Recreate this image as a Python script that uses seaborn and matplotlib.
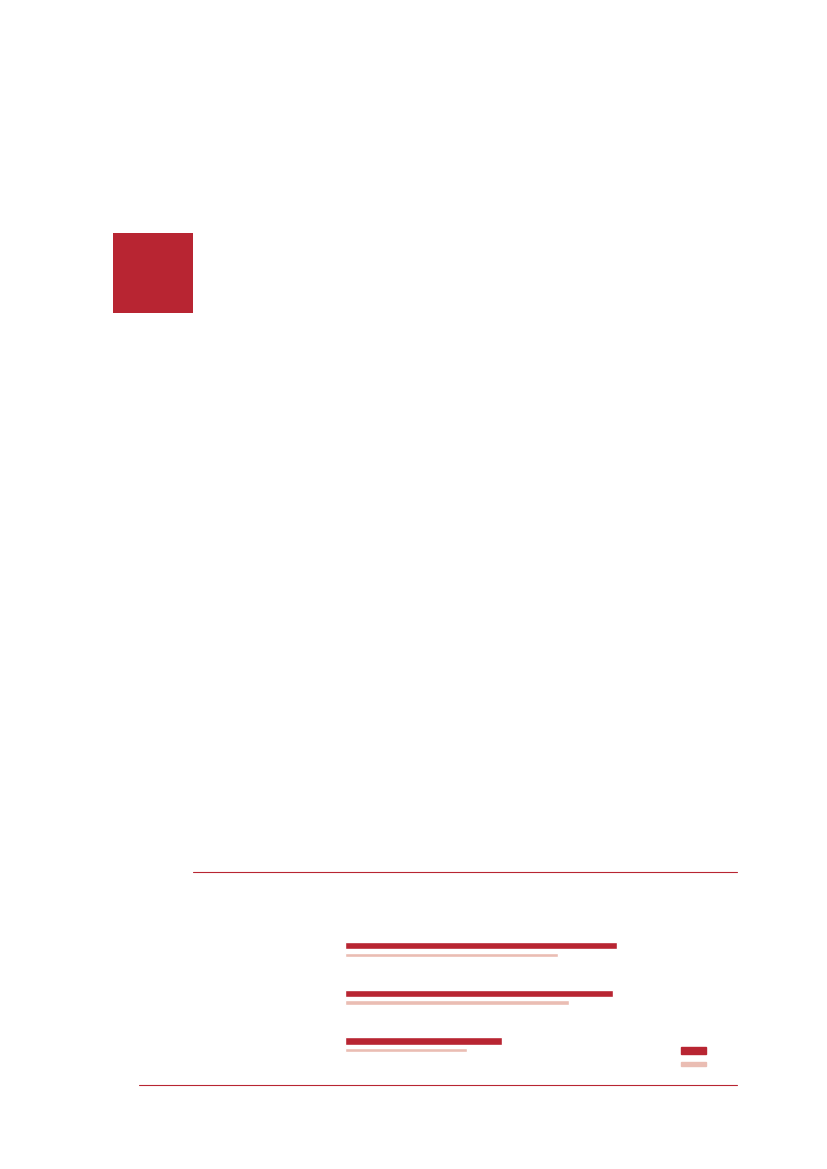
import matplotlib
matplotlib.use("Agg")
import matplotlib.pyplot as plt
import seaborn as sns
import pandas as pd
from matplotlib.lines import Line2D
from matplotlib.patches import Rectangle

# data (no text in the reference)
categories = ["A", "B", "C"]
series = ["dark", "light"]
dark_values = [67.9, 66.9, 39.3]
light_values = [53.2, 56.1, 30.5]

RED = "#B82532"
PINK = "#EABDB3"

W, H = 827, 1169
sns.set_style("white")
fig = plt.figure(figsize=(W / 100, H / 100), dpi=100)


def fx(px):
    return px / W


def fy(py):
    return 1 - py / H


# decorative square and rules
fig.add_artist(Rectangle((fx(113), fy(313)), 80 / W, 80 / H,
                         transform=fig.transFigure, color=RED, lw=0))
fig.add_artist(Line2D([fx(193), fx(737)], [fy(872.3)] * 2,
                      transform=fig.transFigure, color=RED, lw=0.8))
fig.add_artist(Line2D([fx(139), fx(737)], [fy(1085)] * 2,
                      transform=fig.transFigure, color=RED, lw=0.8))

df = pd.DataFrame({
    "cat": categories * 2,
    "series": [series[0]] * len(categories) + [series[1]] * len(categories),
    "value": dark_values + light_values,
})

ax = fig.add_axes([fx(345), fy(1069.65), 400 / W, 143.35 / H])
sns.barplot(
    data=df,
    y="cat",
    x="value",
    hue="series",
    hue_order=series,
    palette=[RED, PINK],
    orient="h",
    width=0.379,
    saturation=1,
    legend=False,
    ax=ax
)
ax.set_xlim(0, 100)
ax.set_ylim(2.5, -0.5)
ax.axis("off")

# thick dark bar, thin light bar
for cont, h in zip(ax.containers, [0.16, 0.086]):
    for p in cont:
        c = p.get_y() + p.get_height() / 2
        p.set_height(h)
        p.set_y(c - h / 2)

fs = 4
fpx = fs * 100 / 72
leg = ax.legend(
    handles=[Rectangle((0, 0), 1, 1, color=RED),
             Rectangle((0, 0), 1, 1, color=PINK)],
    labels=["", ""],
    loc="upper left",
    bbox_to_anchor=(fx(680.6), fy(1047)),
    bbox_transform=fig.transFigure,
    frameon=False,
    fontsize=fs,
    borderpad=0,
    borderaxespad=0,
    handlelength=25 / fpx,
    handleheight=8 / fpx,
    labelspacing=8 / fpx,
    handletextpad=0
)
lp = leg.get_patches()[1]
lp.set_y(lp.get_y() + 2 * 0.72)
lp.set_height(4 * 0.72)

fig.savefig("out.png", dpi=100)
